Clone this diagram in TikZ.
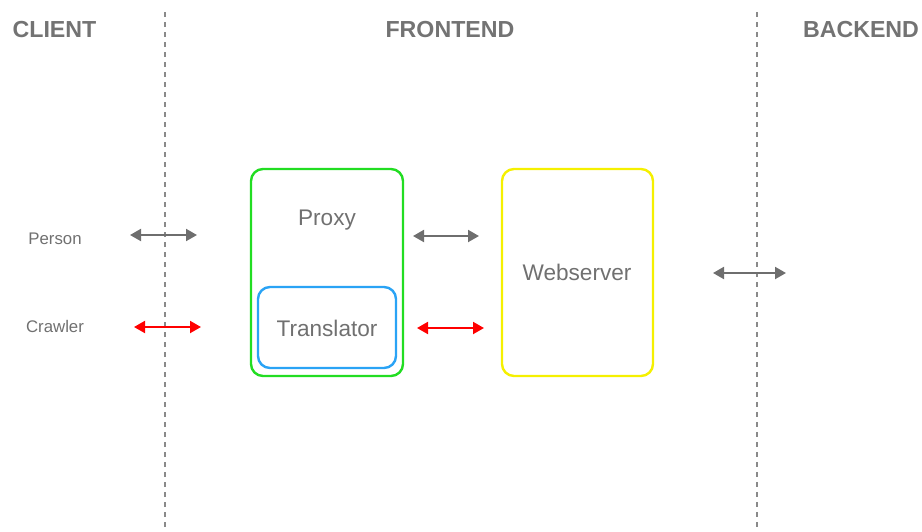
\documentclass[tikz,border=0pt]{standalone}
\usepackage{fontspec}
\setmainfont{Liberation Sans}
\usetikzlibrary{arrows.meta}
\definecolor{txtgray}{HTML}{707070}
\definecolor{hdrgray}{HTML}{737373}
\definecolor{arrgray}{HTML}{6E6E6E}
\definecolor{divgray}{HTML}{8A8A8A}
\definecolor{proxygreen}{HTML}{22DD22}
\definecolor{transblue}{HTML}{2AA3F5}
\definecolor{webyellow}{HTML}{F5F000}
\tikzset{
  header/.style={font=\fontsize{23.2}{27}\selectfont\bfseries, text=hdrgray, inner sep=0pt, anchor=base},
  actor/.style={font=\fontsize{16.8}{20}\selectfont, text=txtgray, inner sep=0pt, anchor=base},
  boxlabel/.style={font=\fontsize{22.6}{27}\selectfont, text=txtgray, inner sep=0pt, anchor=base},
  divider/.style={draw=divgray, line width=1.4pt, dash pattern=on 5pt off 5pt},
  component/.style={draw, line width=2.4pt, rounded corners=12pt},
  flow/.style={line width=2pt, {Triangle[length=11pt,width=12pt]}-{Triangle[length=11pt,width=12pt]}},
  normal/.style={flow, draw=arrgray},
  crawl/.style={flow, draw=red},
}
\begin{document}
\begin{tikzpicture}[x=1pt, y=-1pt]
\useasboundingbox (0,0) rectangle (922,531);

% tier dividers
\coordinate (d1top) at (165,12);
\coordinate (d1bot) at (165,531);
\coordinate (d2top) at (757,12);
\coordinate (d2bot) at (757,531);
\draw[divider] (d1top) -- (d1bot);
\draw[divider] (d2top) -- (d2bot);

% tier headings
\node[header] (client) at (54.5,37.5) {CLIENT};
\node[header] (frontend) at (450,37.5) {FRONTEND};
\node[header] (backend) at (861,37.5) {BACKEND};

% clients
\node[actor] (person) at (55,244.5) {Person};
\node[actor] (crawler) at (55,332.5) {Crawler};

% frontend components
\draw[component, draw=proxygreen] (251,169) rectangle (403,376);
\node[boxlabel] (proxy) at (327,225.5) {Proxy};
\draw[component, draw=transblue] (258,287) rectangle (396,368);
\node[boxlabel] (translator) at (327,336.5) {Translator};
\draw[component, draw=webyellow] (502,169) rectangle (653,376);
\node[boxlabel] (webserver) at (577,280) {Webserver};

% request flows
\coordinate (p1a) at (130,235);
\coordinate (p1b) at (197,235);
\coordinate (c1a) at (134,327);
\coordinate (c1b) at (201,327);
\coordinate (p2a) at (413,236);
\coordinate (p2b) at (479,236);
\coordinate (c2a) at (417,328);
\coordinate (c2b) at (484,328);
\coordinate (b1a) at (713,273);
\coordinate (b1b) at (786,273);
\draw[normal] (p1a) -- (p1b);
\draw[crawl] (c1a) -- (c1b);
\draw[normal] (p2a) -- (p2b);
\draw[crawl] (c2a) -- (c2b);
\draw[normal] (b1a) -- (b1b);
\end{tikzpicture}
\end{document}
